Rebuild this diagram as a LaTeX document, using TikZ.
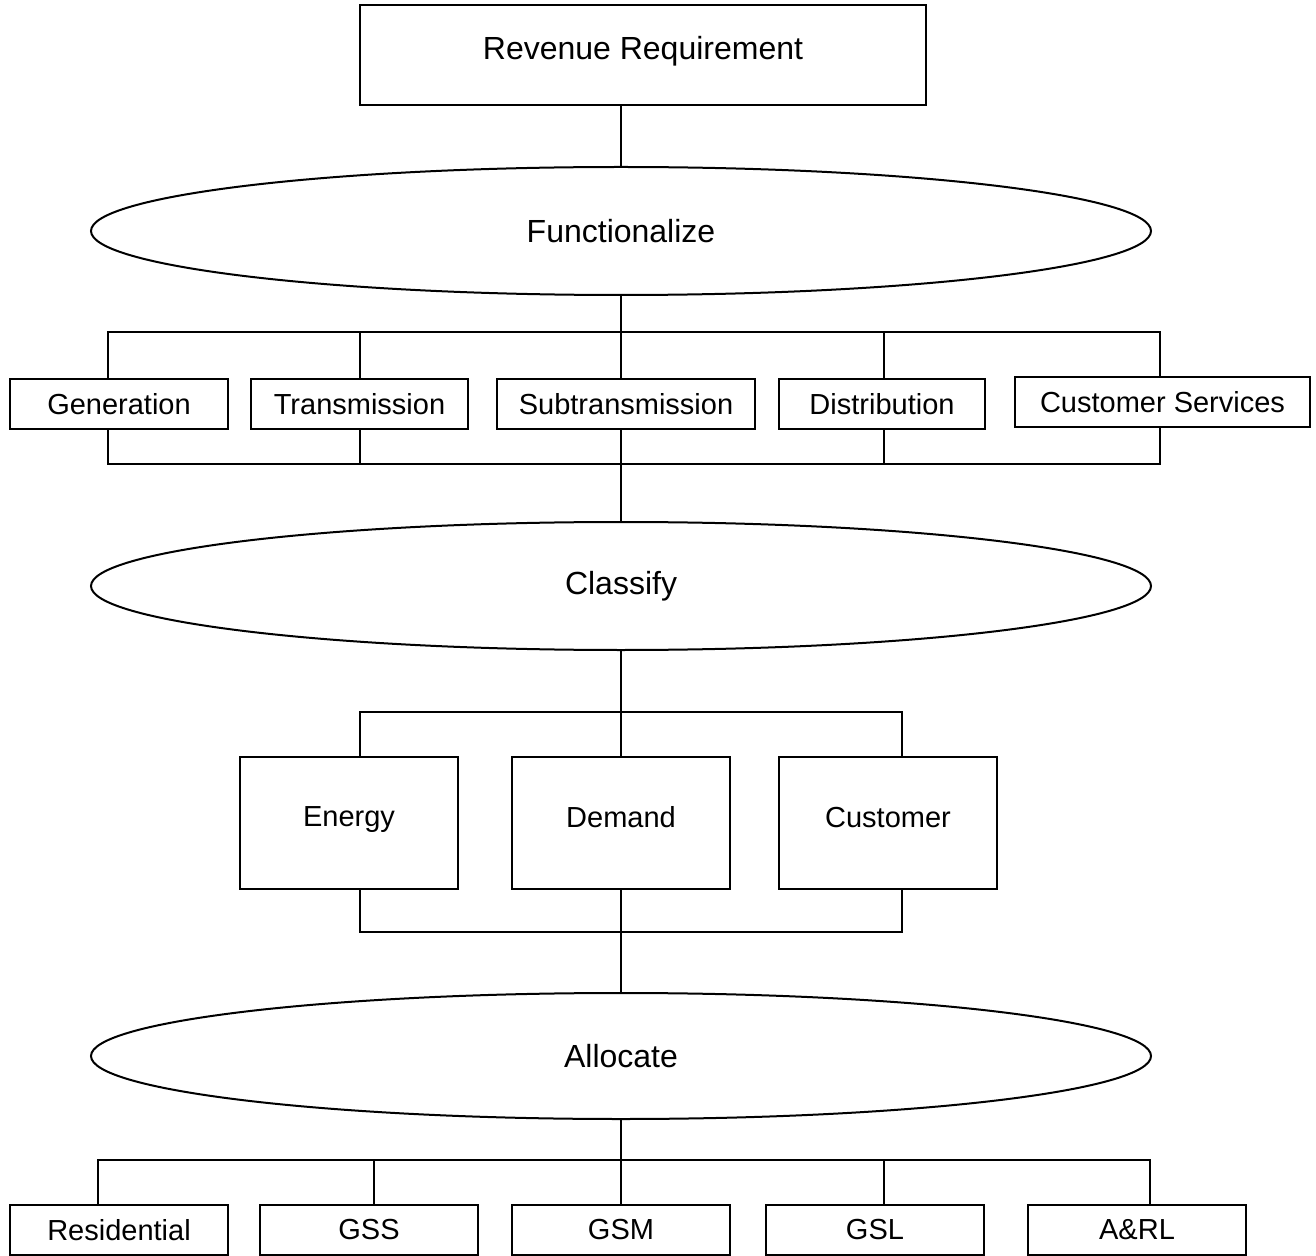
\documentclass[tikz,border=0pt]{standalone}
\usepackage{fontspec}
\setmainfont{Liberation Sans}
\usetikzlibrary{shapes}

\begin{document}
\begin{tikzpicture}[x=0.5pt,y=-0.5pt,line width=1pt,
  box/.style={draw,rectangle,minimum height=25pt,inner sep=0pt,font=\fontsize{14.5}{17}\selectfont},
  bigbox/.style={box,minimum height=66pt,text depth=6pt},
  oval/.style={draw,ellipse,minimum width=530pt,minimum height=64pt,inner sep=0pt,font=\fontsize{16}{19}\selectfont}]
  \useasboundingbox (0,0) rectangle (1316,1256);
  \node[draw,minimum width=283pt,minimum height=50pt,text depth=7pt,font=\fontsize{16}{19}\selectfont] (rev) at (643,55) {Revenue Requirement};
  \node[oval] (fun) at (621,231) {Functionalize};
  \node[box,minimum width=109pt] (gen) at (119,404) {Generation};
  \node[box,minimum width=108.5pt] (tra) at (359.5,404) {Transmission};
  \node[box,minimum width=129pt] (sub) at (626,404) {Subtransmission};
  \node[box,minimum width=103pt] (dis) at (882,404) {Distribution};
  \node[box,minimum width=147.5pt] (cus) at (1162.5,402) {Customer Services};
  \node[oval] (cla) at (621,586) {Classify};
  \node[bigbox,minimum width=109pt] (ene) at (349,823) {Energy};
  \node[bigbox,minimum width=109pt] (dem) at (621,823) {Demand};
  \node[bigbox,minimum width=109pt] (cst) at (888,823) {Customer};
  \node[oval,minimum height=63pt] (all) at (621,1056) {Allocate};
  \node[box,minimum width=109pt] (res) at (119,1230) {Residential};
  \node[box,minimum width=109pt] (gss) at (369,1230) {GSS};
  \node[box,minimum width=109pt] (gsm) at (621,1230) {GSM};
  \node[box,minimum width=109pt] (gsl) at (875,1230) {GSL};
  \node[box,minimum width=109pt] (arl) at (1137,1230) {A\&RL};

  % functionalize
  \draw (rev.south -| fun.north) -- (fun.north);
  \coordinate (fj) at (fun.south |- 0,332);
  \coordinate (fk) at (fun.south |- 0,464);
  \draw (fun.south) -- (fj);
  \draw ([xshift=-5.5pt]gen.north) |- (fj) -| ([xshift=-1.25pt]cus.north);
  \draw (tra.north) |- (fj);
  \draw (fj) -- (fj |- sub.north);
  \draw ([xshift=1pt]dis.north) |- (fj);
  \draw ([xshift=-5.5pt]gen.south) |- (fk) -| ([xshift=-1.25pt]cus.south);
  \draw (tra.south) |- (fk);
  \draw (fj |- sub.south) -- (fk);
  \draw ([xshift=1pt]dis.south) |- (fk);
  \draw (fk) -- (cla.north);

  % classify
  \coordinate (cj) at (cla.south |- 0,712);
  \coordinate (ck) at (cla.south |- 0,932);
  \draw (cla.south) -- (cj);
  \draw ([xshift=5.5pt]ene.north) |- (cj) -| ([xshift=7pt]cst.north);
  \draw (cj) -- (dem.north);
  \draw ([xshift=5.5pt]ene.south) |- (ck) -| ([xshift=7pt]cst.south);
  \draw (dem.south) -- (ck);
  \draw (ck) -- (all.north);

  % allocate
  \coordinate (aj) at (all.south |- 0,1160);
  \draw (all.south) -- (aj);
  \draw ([xshift=-10.5pt]res.north) |- (aj) -| ([xshift=6.5pt]arl.north);
  \draw ([xshift=2.5pt]gss.north) |- (aj);
  \draw (aj) -- (gsm.north);
  \draw ([xshift=4.5pt]gsl.north) |- (aj);
\end{tikzpicture}
\end{document}
